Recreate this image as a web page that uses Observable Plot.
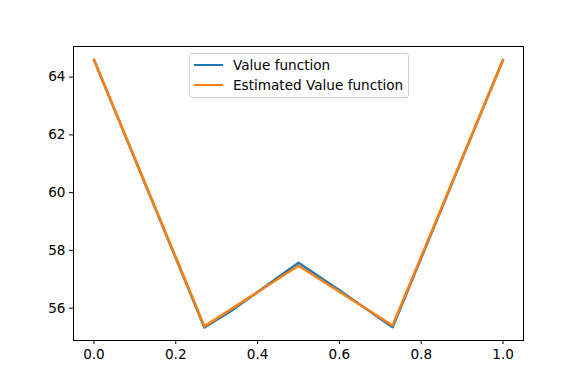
<!DOCTYPE html>
<html>
<head>
<meta charset="utf-8">
<script src="https://cdn.jsdelivr.net/npm/d3@7"></script>
<script src="https://cdn.jsdelivr.net/npm/@observablehq/plot@0.6"></script>
<style>
  body { margin: 0; background: #fff; font-family: "DejaVu Sans", sans-serif; }
  #wrap { position: relative; width: 581px; height: 388px; }
  #legend {
    position: absolute; left: 189px; top: 53px;
    border: 1px solid #d0d0d0; border-radius: 3px; background: rgba(255,255,255,0.8);
    padding: 1px 5px 2px 4px; font-size: 13.6px; color: #000; line-height: 20px;
  }
  .item { display: flex; align-items: center; white-space: nowrap; }
  .swatch { display: inline-block; width: 29px; height: 2.5px; margin-right: 10px; }
</style>
</head>
<body>
<div id="wrap"><div id="chart"></div><div id="legend"></div></div>
<script>
const seriesNames = ["Value function", "Estimated Value function"];
const seriesColors = ["#1f77b4", "#ff7f0e"];

const valueX = [0.0, 0.27, 0.34, 0.5, 0.6, 0.73, 1.0];
const valueY = [64.6, 55.33, 55.95, 57.57, 56.62, 55.34, 64.6];

const estX = [0.0, 0.27, 0.5, 0.73, 1.0];
const estY = [64.6, 55.37, 57.47, 55.40, 64.6];

const xTicks = [0.0, 0.2, 0.4, 0.6, 0.8, 1.0];
const yTicks = [56, 58, 60, 62, 64];

const valueData = valueX.map((x, i) => ({x, y: valueY[i]}));
const estData = estX.map((x, i) => ({x, y: estY[i]}));

const chart = Plot.plot({
  width: 581,
  height: 388,
  marginLeft: 73,
  marginRight: 58,
  marginTop: 46,
  marginBottom: 48,
  style: {fontFamily: "DejaVu Sans, sans-serif", fontSize: "13.6px", color: "#000", background: "#fff"},
  x: {domain: [-0.05, 1.05], label: null},
  y: {domain: [54.88, 65.06], label: null},
  marks: [
    Plot.frame({stroke: "#000", strokeWidth: 1}),
    Plot.line(valueData, {x: "x", y: "y", stroke: seriesColors[0], strokeWidth: 2.5}),
    Plot.line(estData, {x: "x", y: "y", stroke: seriesColors[1], strokeWidth: 2.5}),
    Plot.axisX({ticks: xTicks, tickFormat: d3.format(".1f"), tickSize: 4, tickPadding: 5, label: null, fontSize: 13.6}),
    Plot.axisY({ticks: yTicks, tickFormat: d3.format("d"), tickSize: 4, tickPadding: 4, label: null, fontSize: 13.6})
  ]
});
document.getElementById("chart").appendChild(chart);

const legend = document.getElementById("legend");
seriesNames.forEach((name, i) => {
  const item = document.createElement("div");
  item.className = "item";
  const sw = document.createElement("span");
  sw.className = "swatch";
  sw.style.background = seriesColors[i];
  item.appendChild(sw);
  item.appendChild(document.createTextNode(name));
  legend.appendChild(item);
});
</script>
</body>
</html>
